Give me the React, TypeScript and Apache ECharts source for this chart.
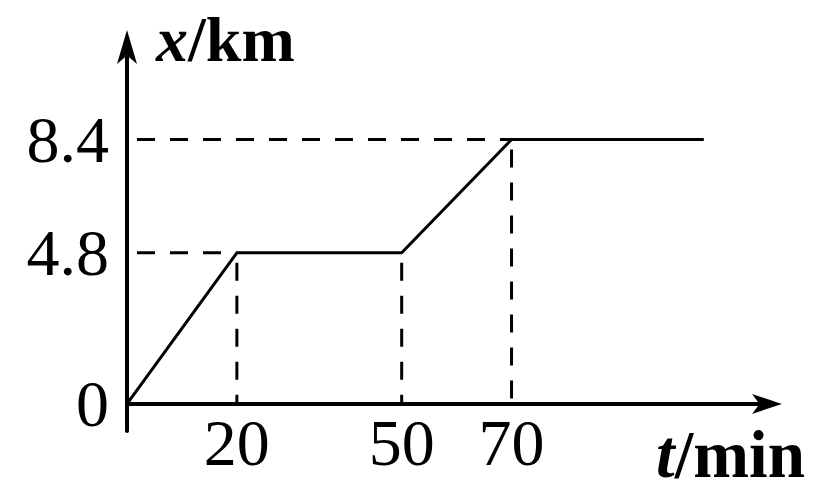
import React, { useEffect, useRef } from "react";
import * as echarts from "echarts";

// key points of the distance–time graph
const tValues = [0, 20, 50, 70, 105];
const xValues = [0, 4.8, 4.8, 8.4, 8.4];
// tick labels
const tTicks = [20, 50, 70];
const xTicks = [0, 4.8, 8.4];

const FONT = "'Liberation Serif', 'Times New Roman', serif";

export default function App() {
  const ref = useRef<HTMLDivElement>(null);

  useEffect(() => {
    if (!ref.current) return;
    const chart = echarts.init(ref.current, undefined, { renderer: "svg" });

    const mainData = tValues.map((t, i) => [t, xValues[i]]);
    const guides: number[][][] = [
      [[0, xValues[3]], [tValues[3], xValues[3]]],
      [[0, xValues[1]], [tValues[1], xValues[1]]],
      [[tValues[1], xValues[1]], [tValues[1], 0]],
      [[tValues[2], xValues[2]], [tValues[2], 0]],
      [[tValues[3], xValues[3]], [tValues[3], 0]],
    ];

    const dashStyle = {
      color: "#000",
      width: 3,
      type: [18, 15] as number[],
      dashOffset: 23,
    };

    chart.setOption({
      animation: false,
      backgroundColor: "#fff",
      grid: {
        left: 127,
        right: 60,
        top: 45,
        bottom: 65,
        containLabel: false,
        outerBoundsMode: "none",
      },
      xAxis: {
        type: "value",
        min: 0,
        max: 116.5,
        axisLine: {
          onZero: true,
          lineStyle: { color: "#000", width: 4 },
          symbol: ["none", "arrow"],
          symbolSize: [15, 30],
          symbolOffset: [0, 15],
        },
        axisTick: { show: false },
        splitLine: { show: false },
        axisLabel: {
          customValues: tTicks,
          color: "#000",
          fontFamily: FONT,
          fontSize: 66,
          margin: -22,
        },
        name: "{a|t}{b|/min}",
        nameLocation: "end",
        nameGap: 38,
        nameTextStyle: {
          align: "right",
          verticalAlign: "top",
          padding: [17, 0, 0, 0],
          rich: {
            a: { fontFamily: FONT, fontSize: 67, fontStyle: "italic", fontWeight: "bold", color: "#000" },
            b: { fontFamily: FONT, fontSize: 67, fontWeight: "bold", color: "#000" },
          },
        },
      },
      yAxis: {
        type: "value",
        min: -0.86,
        max: 11.4,
        axisLine: {
          onZero: true,
          lineStyle: { color: "#000", width: 4 },
          symbol: ["none", "arrow"],
          symbolSize: [15, 34],
          symbolOffset: [0, 15],
        },
        axisTick: { show: false },
        splitLine: { show: false },
        axisLabel: {
          customValues: xTicks,
          color: "#000",
          fontFamily: FONT,
          fontSize: 66,
          margin: 18,
        },
        name: "{a|x}{b|/km}",
        nameLocation: "end",
        nameGap: 6,
        nameTextStyle: {
          align: "left",
          verticalAlign: "middle",
          padding: [0, 0, 0, 29],
          rich: {
            a: { fontFamily: FONT, fontSize: 64, fontStyle: "italic", fontWeight: "bold", color: "#000" },
            b: { fontFamily: FONT, fontSize: 64, fontWeight: "bold", color: "#000" },
          },
        },
      },
      series: [
        ...guides.map((g) => ({
          type: "line",
          data: g,
          symbol: "none",
          silent: true,
          z: 1,
          lineStyle: dashStyle,
        })),
        {
          type: "line",
          data: mainData,
          symbol: "none",
          silent: true,
          z: 3,
          lineStyle: { color: "#000", width: 3 },
        },
      ],
    });

    return () => chart.dispose();
  }, []);

  return (
    <div
      ref={ref}
      style={{ position: "absolute", left: 0, top: 0, width: 827, height: 496, background: "#fff" }}
    />
  );
}
